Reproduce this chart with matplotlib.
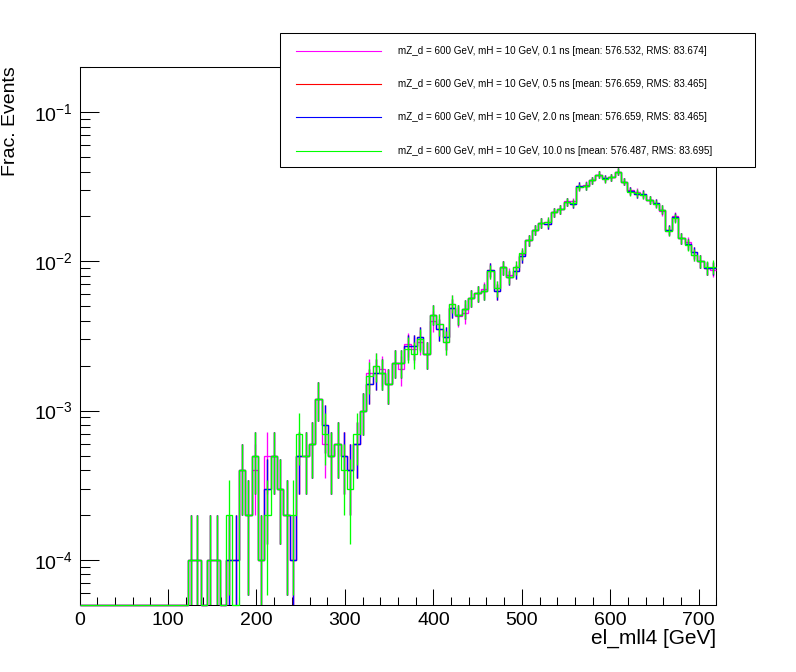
import numpy as np
import matplotlib
matplotlib.use('Agg')
import matplotlib.pyplot as plt
from matplotlib.ticker import MultipleLocator, LogLocator, NullFormatter
from matplotlib.patches import Rectangle
from matplotlib.lines import Line2D

plt.rcParams['font.family'] = ['Liberation Sans', 'DejaVu Sans']
plt.rcParams['mathtext.fontset'] = 'custom'
plt.rcParams['mathtext.rm'] = 'Liberation Sans'
plt.rcParams['mathtext.it'] = 'Liberation Sans:italic'
plt.rcParams['mathtext.bf'] = 'Liberation Sans:bold'

# 100 bins of 7.2 GeV between 0 and 720 GeV, counts out of 10000 events
n_events = 10000.0
bin_edges = np.linspace(0, 720, 101)

counts_01ns = [0, 0, 0, 0, 0, 0, 0, 0, 0, 0,
               0, 0, 0, 0, 0, 0, 0, 1, 1, 0,
               1, 1, 0, 1, 1, 4, 2, 4, 1, 5,
               5, 3, 2, 1, 5, 5, 6, 12, 6, 5,
               6, 5, 4, 6, 10, 18, 20, 19, 15, 21,
               19, 28, 26, 29, 24, 40, 38, 29, 52, 43,
               45, 57, 61, 65, 86, 66, 91, 81, 91, 112,
               138, 163, 182, 184, 214, 224, 252, 252, 314, 326,
               349, 382, 356, 367, 400, 341, 299, 291, 278, 259,
               243, 216, 161, 200, 143, 134, 111, 100, 90, 88]

counts_05ns = [0, 0, 0, 0, 0, 0, 0, 0, 0, 0,
               0, 0, 0, 0, 0, 0, 0, 1, 1, 0,
               1, 1, 0, 1, 1, 4, 2, 5, 1, 3,
               5, 3, 2, 1, 5, 5, 6, 12, 8, 5,
               6, 5, 4, 6, 10, 15, 18, 18, 15, 21,
               21, 27, 27, 31, 24, 44, 35, 31, 49, 44,
               48, 57, 61, 63, 88, 63, 91, 78, 86, 108,
               138, 163, 182, 178, 214, 224, 250, 243, 321, 321,
               349, 382, 360, 367, 400, 341, 297, 284, 282, 259,
               246, 222, 163, 198, 143, 130, 115, 100, 90, 90]

counts_20ns = [0, 0, 0, 0, 0, 0, 0, 0, 0, 0,
               0, 0, 0, 0, 0, 0, 0, 1, 1, 0,
               1, 1, 0, 1, 1, 4, 2, 5, 1, 3,
               5, 3, 2, 1, 5, 5, 6, 12, 8, 5,
               6, 5, 4, 6, 10, 15, 18, 18, 15, 21,
               21, 27, 27, 31, 24, 44, 35, 31, 49, 44,
               48, 57, 61, 63, 88, 63, 91, 78, 86, 108,
               138, 163, 182, 178, 214, 224, 250, 243, 321, 321,
               349, 382, 360, 367, 400, 341, 297, 284, 282, 259,
               246, 222, 163, 198, 143, 130, 115, 100, 90, 90]

counts_100ns = [0, 0, 0, 0, 0, 0, 0, 0, 0, 0,
                0, 0, 0, 0, 0, 0, 0, 1, 1, 0,
                1, 1, 0, 2, 0, 4, 2, 5, 1, 2,
                5, 3, 2, 2, 7, 5, 6, 12, 7, 5,
                6, 4, 3, 7, 10, 17, 20, 18, 15, 21,
                21, 26, 24, 30, 24, 44, 38, 29, 52, 44,
                48, 57, 61, 63, 86, 66, 91, 79, 91, 113,
                138, 163, 182, 184, 214, 224, 250, 246, 314, 321,
                349, 382, 356, 367, 400, 341, 293, 287, 278, 259,
                243, 222, 161, 195, 143, 129, 111, 100, 91, 92]

labels = ['mZ_d = 600 GeV, mH = 10 GeV, 0.1 ns [mean: 576.532, RMS: 83.674]',
          'mZ_d = 600 GeV, mH = 10 GeV, 0.5 ns [mean: 576.659, RMS: 83.465]',
          'mZ_d = 600 GeV, mH = 10 GeV, 2.0 ns [mean: 576.659, RMS: 83.465]',
          'mZ_d = 600 GeV, mH = 10 GeV, 10.0 ns [mean: 576.487, RMS: 83.695]']
colors = ['#ff00ff', '#ff0000', '#0000ff', '#00ff00']

W, H = 796.0, 672.0
fig = plt.figure(figsize=(W / 100, H / 100), dpi=100)
ax = fig.add_axes([0.1, 0.1, 0.8, 0.8])
ymin, ymax = 5e-5, 0.2
centers = 0.5 * (bin_edges[:-1] + bin_edges[1:])

for counts, col in zip([counts_01ns, counts_05ns, counts_20ns, counts_100ns], colors):
    c = np.array(counts, dtype=float)
    frac = c / n_events
    err = np.sqrt(c) / n_events
    ax.stairs(np.maximum(frac, ymin), bin_edges, baseline=None, color=col,
              lw=0.95, zorder=3, clip_on=False)
    m = c > 0
    lo = np.maximum(frac[m] - err[m], ymin)
    ax.vlines(centers[m], lo, frac[m] + err[m], color=col, lw=0.95, zorder=3)

ax.set_yscale('log')
ax.set_xlim(0, 720)
ax.set_ylim(ymin, ymax)
ax.xaxis.set_major_locator(MultipleLocator(100))
ax.xaxis.set_minor_locator(MultipleLocator(20))
ax.yaxis.set_major_locator(LogLocator(base=10, numticks=10))
ax.yaxis.set_minor_locator(LogLocator(base=10, subs=np.arange(2, 10), numticks=20))
ax.yaxis.set_minor_formatter(NullFormatter())
for s in ax.spines.values():
    s.set_linewidth(0.75)
ax.tick_params(which='both', direction='in', top=False, right=False, width=0.75)
ax.tick_params(axis='x', which='major', length=11.5, labelsize=14, pad=5)
ax.tick_params(axis='x', which='minor', length=5.8)
ax.tick_params(axis='y', which='major', length=13.7, labelsize=14, pad=5)
ax.tick_params(axis='y', which='minor', length=7.2)

fig.text(11 / W, 1 - 66 / H, 'Frac. Events', rotation=90, ha='center', va='top', fontsize=14)
fig.text(716.4 / W, 1 - 644 / H, 'el_mll4 [GeV]', ha='right', va='baseline', fontsize=15)

# legend box, drawn over the frame like ROOT's TLegend
fig.add_artist(Rectangle((280 / W, 1 - 167.3 / H), 475 / W, 134 / H, transform=fig.transFigure,
                         facecolor='white', edgecolor='black', lw=0.75, zorder=10))
for row_y, lab, col in zip([50.7, 84.0, 117.3, 151.3], labels, colors):
    fy = 1 - row_y / H
    fig.add_artist(Line2D([296 / W, 381 / W], [fy, fy], transform=fig.transFigure,
                          color=col, lw=0.8, zorder=11))
    fig.text(398 / W, fy, lab, fontsize=7.1, ha='left', va='center', zorder=11)

fig.savefig('out.png', dpi=100)
